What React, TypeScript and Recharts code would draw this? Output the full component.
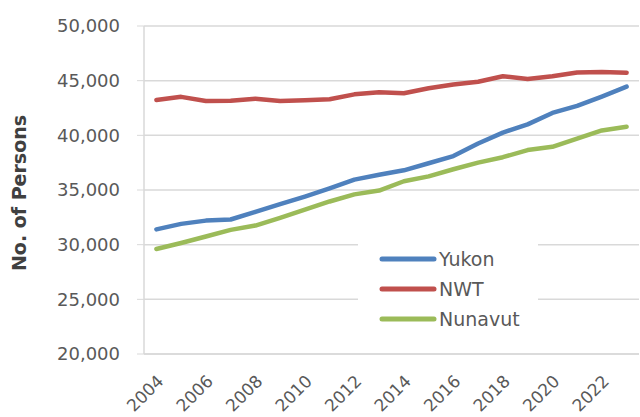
import { LineChart, Line, XAxis, YAxis, CartesianGrid, Legend } from "recharts";

const YEARS = [
  "2004", "2005", "2006", "2007", "2008", "2009", "2010", "2011", "2012", "2013",
  "2014", "2015", "2016", "2017", "2018", "2019", "2020", "2021", "2022", "2023",
];

const YUKON = [
  31400, 31900, 32200, 32300, 33000, 33700, 34400, 35150, 35950, 36400,
  36800, 37450, 38100, 39250, 40250, 41000, 42050, 42700, 43550, 44450,
];

const NWT = [
  43230, 43520, 43140, 43170, 43350, 43140, 43200, 43300, 43750, 43950,
  43850, 44300, 44650, 44900, 45400, 45150, 45400, 45750, 45800, 45730,
];

const NUNAVUT = [
  29600, 30150, 30750, 31350, 31750, 32450, 33200, 33950, 34600, 34950,
  35800, 36250, 36900, 37500, 38000, 38650, 38950, 39700, 40450, 40780,
];

const Y_TICKS = [20000, 25000, 30000, 35000, 40000, 45000, 50000];

const SERIES = ["Yukon", "NWT", "Nunavut"] as const;
const COLORS = { Yukon: "#4F81BD", NWT: "#C0504D", Nunavut: "#9BBB59" };

const FONT = "'DejaVu Sans', sans-serif";

const data = YEARS.map((year, i) => ({
  year,
  Yukon: YUKON[i],
  NWT: NWT[i],
  Nunavut: NUNAVUT[i],
}));

function YearTick({ x, y, payload }: any) {
  const ax = x + 4;
  const ay = y + 16;
  return (
    <text
      x={ax}
      y={ay}
      transform={`rotate(-45, ${ax}, ${ay})`}
      textAnchor="end"
      dominantBaseline="central"
      fontSize={17}
      fontFamily={FONT}
      fill="#595959"
    >
      {payload.value}
    </text>
  );
}

function LegendBox({ payload }: any) {
  const items = [...(payload || [])].sort(
    (a: any, b: any) => SERIES.indexOf(a.value) - SERIES.indexOf(b.value)
  );
  return (
    <div style={{ background: "#fff", padding: "6px 0 6px 0", width: 180 }}>
      {items.map((p: any) => (
        <div key={p.value} style={{ display: "flex", alignItems: "center", height: 30 }}>
          <svg width={60} height={10} style={{ marginLeft: 21 }}>
            <line x1={3} y1={5} x2={55} y2={5} stroke={p.color} strokeWidth={5} strokeLinecap="round" />
          </svg>
          <span style={{ fontFamily: FONT, fontSize: 19, color: "#595959", marginLeft: 0 }}>
            {p.value}
          </span>
        </div>
      ))}
    </div>
  );
}

export default function App() {
  return (
    <div style={{ position: "absolute", left: 0, top: 0, background: "#fff" }}>
      <LineChart width={640} height={417} data={data} margin={{ top: 26, right: 1, bottom: 0, left: 0 }}>
        <CartesianGrid vertical={false} stroke="#d9d9d9" strokeWidth={1.5} />
        <XAxis
          dataKey="year"
          height={63}
          interval={1}
          tick={<YearTick />}
          tickLine={false}
          axisLine={{ stroke: "#d9d9d9", strokeWidth: 1.5 }}
          padding={{ left: 12.4, right: 12.4 }}
        />
        <YAxis
          domain={[20000, 50000]}
          ticks={Y_TICKS}
          width={144}
          tickSize={7}
          tickMargin={17}
          tickFormatter={(v: number) => v.toLocaleString("en-US")}
          tick={{ fontSize: 18, fontFamily: FONT, fill: "#595959" }}
          tickLine={{ stroke: "#d9d9d9" }}
          axisLine={{ stroke: "#d9d9d9", strokeWidth: 1.5 }}
          label={{
            value: "No. of Persons",
            angle: -90,
            position: "insideLeft",
            dx: 14,
            dy: 3,
            style: { fontSize: 19, fontFamily: FONT, fontWeight: "bold", fill: "#404040", textAnchor: "middle" },
          }}
        />
        <Legend
          layout="vertical"
          align="center"
          verticalAlign="middle"
          content={<LegendBox />}
          wrapperStyle={{ position: "absolute", left: 358, top: 238, width: 180, height: 100 }}
        />
        {SERIES.map((k) => (
          <Line
            key={k}
            dataKey={k}
            stroke={COLORS[k]}
            strokeWidth={4.5}
            strokeLinecap="round"
            strokeLinejoin="round"
            dot={false}
            isAnimationActive={false}
          />
        ))}
      </LineChart>
    </div>
  );
}
